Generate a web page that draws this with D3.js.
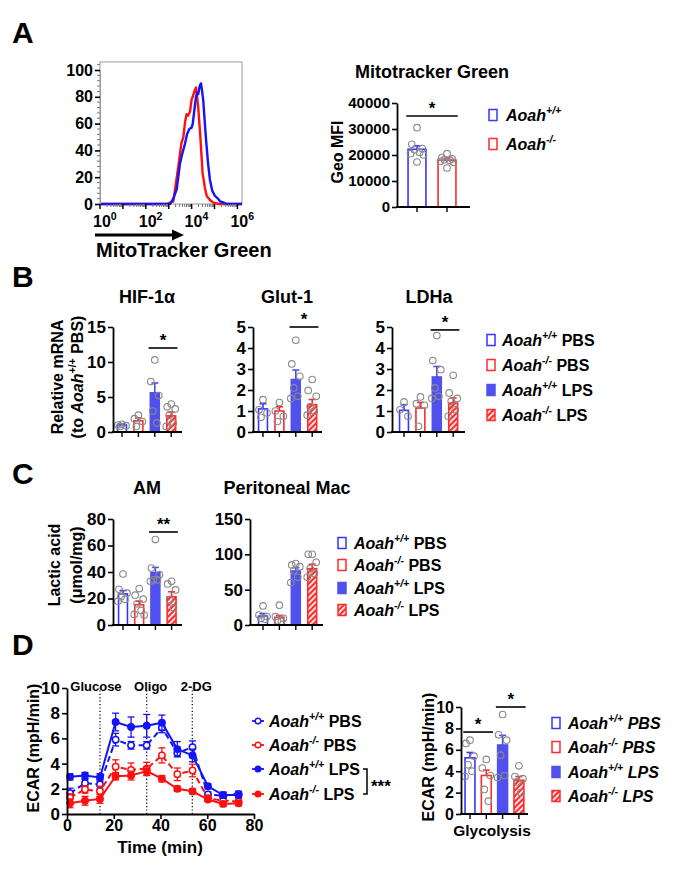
<!DOCTYPE html>
<html><head><meta charset="utf-8">
<script src="https://cdn.jsdelivr.net/npm/d3@7"></script>
<style>
body{margin:0;background:#fff}
text{font-family:"Liberation Sans",Arial,Helvetica,sans-serif;font-weight:bold;fill:#000}
</style>
</head><body>
<svg id="c" width="680" height="875"></svg>
<script>
// ================= DATA =================
// Panel A: flow histogram (log10 fluorescence, % of max)
const histLogBlue = [0, 3.06, 3.2, 3.35, 3.49, 3.6, 3.71, 3.8, 3.9, 4.0, 4.05, 4.12, 4.19, 4.25, 4.29, 4.35, 4.41, 4.46, 4.51, 4.57, 4.63, 4.72, 4.8, 4.9, 5.02, 5.15, 5.24, 5.4, 5.53, 6.2];
const histPctBlue = [0, 0, 4, 11, 30, 38, 45, 52, 56, 57, 60, 70, 80, 83, 82, 88, 90, 84, 77, 62, 48, 30, 18, 10, 6, 4, 2, 1, 0, 0];
const histLogRed  = [0, 2.9, 3.2, 3.42, 3.55, 3.64, 3.72, 3.78, 3.85, 3.93, 4.0, 4.05, 4.12, 4.19, 4.24, 4.29, 4.37, 4.48, 4.58, 4.66, 4.8, 4.95, 5.2, 6.2];
const histPctRed  = [0, 0, 2, 28, 45, 50, 62, 67, 66, 69, 78, 80, 84, 87, 80, 72, 53, 23, 12, 6, 3, 1, 0, 0];
const histYTicks = [0, 20, 40, 60, 80, 100];
const histXDecadeLabels = [0, 2, 4, 6];

// Panel A: Mitotracker Green Geo MFI
const mtgGroups = ["Aoah+/+", "Aoah-/-"];
const mtgMean = [22200, 18000];
const mtgSem  = [1300, 700];
const mtgDots = [[30500, 24100, 22500, 22000, 21000, 20500, 20000, 17300], [20500, 19000, 18500, 18200, 18000, 17600, 17200, 15000]];
const mtgTicks = [0, 10000, 20000, 30000, 40000];

// Panel B/C/D-bar groups
const groups4 = ["Aoah+/+ PBS", "Aoah-/- PBS", "Aoah+/+ LPS", "Aoah-/- LPS"];

// Panel B
const hifMean = [1.0, 1.6, 5.6, 2.3];
const hifSem  = [0.15, 0.4, 1.4, 0.55];
const hifDots = [[1.1, 1.0, 0.9, 0.8], [2.4, 1.9, 1.5, 0.8], [10.3, 7.2, 5.2, 3.0, 1.3], [4.0, 3.6, 3.3, 2.4, 1.3, 0.8]];
const hifTicks = [0, 5, 10, 15];

const glutMean = [1.1, 1.0, 2.5, 1.3];
const glutSem  = [0.25, 0.2, 0.45, 0.25];
const glutDots = [[1.54, 1.06, 0.9, 0.7], [1.4, 1.0, 0.75, 0.5], [4.37, 3.24, 2.65, 2.1, 1.7, 1.6], [2.5, 1.98, 1.7, 1.2, 1.0, 0.8]];
const ldhaMean = [1.03, 1.14, 2.62, 1.38];
const ldhaSem  = [0.27, 0.27, 0.5, 0.24];
const ldhaDots = [[1.43, 1.06, 0.75], [1.67, 1.35, 1.27, 0.27], [4.59, 3.4, 2.97, 2.1, 1.7, 1.6], [2.7, 1.86, 1.6, 1.46, 1.06, 0.75]];
const fiveTicks = [0, 1, 2, 3, 4, 5];

// Panel C
const amMean = [23.5, 15.3, 39.5, 21.3];
const amSem  = [2.5, 2.7, 4.0, 3.8];
const amDots = [[38.5, 27, 24, 21.4, 19.4, 18], [27.5, 22.5, 19.5, 16, 11, 8, 7.5], [64.5, 43, 38, 34, 34, 33], [33, 31, 26.5, 19, 13]];
const amTicks = [0, 20, 40, 60, 80];
const pmMean = [12.7, 11.0, 76.4, 79.7];
const pmSem  = [3.5, 2.5, 4.6, 6.3];
const pmDots = [[27, 14, 12, 9.4, 8], [28, 12, 9.4, 6, 5], [87, 85, 82.5, 77, 67.5, 60], [100, 100, 88.7, 80, 73, 67.5]];
const pmTicks = [0, 50, 100, 150];

// Panel D: ECAR time course
const ecarTime = [1.3, 7.7, 14.1, 20.8, 27.4, 34.1, 40.6, 47.2, 53.7, 60.3, 66.8, 73.4];
const ecarWtPbs  = [1.65, 2.45, 2.35, 5.9, 5.45, 5.45, 6.85, 4.85, 5.3, 1.55, 1.45, 1.6];
const ecarWtPbsSem  = [0.4, 0.3, 0.35, 0.5, 0.3, 0.3, 0.4, 0.3, 0.5, 0.2, 0.2, 0.2];
const ecarKoPbs  = [1.3, 1.95, 1.8, 3.75, 3.5, 3.6, 4.65, 3.15, 3.45, 1.25, 1.05, 1.0];
const ecarKoPbsSem  = [0.3, 0.3, 0.4, 0.55, 0.55, 0.5, 0.6, 0.5, 0.5, 0.2, 0.2, 0.2];
const ecarWtLps  = [2.95, 3.05, 2.9, 7.3, 6.9, 7.0, 7.25, 5.15, 4.65, 2.2, 1.5, 1.5];
const ecarWtLpsSem  = [0.25, 0.25, 0.3, 0.7, 0.8, 0.9, 0.6, 0.6, 0.5, 0.2, 0.25, 0.2];
const ecarKoLps  = [0.85, 1.05, 1.2, 3.0, 3.05, 3.4, 2.8, 2.0, 1.8, 1.15, 0.8, 0.85];
const ecarKoLpsSem  = [0.35, 0.35, 0.35, 0.3, 0.35, 0.35, 0.25, 0.2, 0.2, 0.15, 0.2, 0.2];
const injectionTimes = [14.1, 34.1, 53.6];
const injectionLabels = ["Glucose", "Oligo", "2-DG"];
const ecarXTicks = [0, 20, 40, 60, 80];
const ecarYTicks = [0, 2, 4, 6, 8, 10];

// Panel D: glycolysis bars
const glyMean = [5.25, 3.6, 6.45, 3.15];
const glySem  = [0.5, 0.5, 0.9, 0.35];
const glyDots = [[6.9, 6.6, 5.4, 4.6, 4.0, 3.5], [5.1, 4.3, 3.6, 2.3, 1.2], [9.3, 7.4, 6.9, 5.5, 3.6, 3.4], [4.5, 3.5, 3.3, 3.0, 2.0]];
const glyTicks = [0, 2, 4, 6, 8, 10];

// ================= DRAWING =================
const svg = d3.select("#c");
const BLUE = "#3535ff", BLUEF = "#5050ee", RED = "#ff2b2b";
const LBLUE = "#1414f5", LRED = "#ff1010";

const defs = svg.append("defs");
const pat = defs.append("pattern").attr("id", "hatch").attr("patternUnits", "userSpaceOnUse")
  .attr("width", 4).attr("height", 4).attr("patternTransform", "rotate(45)");
pat.append("rect").attr("width", 4).attr("height", 4).attr("fill", RED);
pat.append("rect").attr("width", 1.7).attr("height", 4).attr("fill", "#fff");

const STY = {
  wo: {fill: "#fff", stroke: BLUE},
  ko: {fill: "#fff", stroke: RED},
  wf: {fill: BLUEF, stroke: BLUEF},
  kh: {fill: "url(#hatch)", stroke: RED}
};
const styles4 = ["wo", "ko", "wf", "kh"];

function rich(parent, x, y, parts, size, anchor, rot) {
  const t = parent.append("text").attr("font-size", size).attr("text-anchor", anchor || "start");
  if (rot) t.attr("transform", `translate(${x + size * 0.35},${y}) rotate(-90)`);
  else t.attr("x", x).attr("y", y);
  let prevSup = false;
  parts.forEach(p => {
    const s = t.append("tspan").text(p.t);
    if (p.i) s.attr("font-style", "italic");
    if (p.sup) { s.attr("font-size", size * 0.66).attr("dy", -size * 0.42); }
    else if (prevSup) s.attr("dy", size * 0.42);
    prevSup = !!p.sup;
  });
  return t;
}

function styleAxis(g, fs) {
  g.select(".domain").attr("stroke", "#000").attr("stroke-width", 1.8);
  g.selectAll(".tick line").attr("stroke", "#000").attr("stroke-width", 1.6);
  g.selectAll(".tick text").attr("font-size", fs || 16).attr("font-weight", "bold")
    .attr("font-family", '"Liberation Sans",Arial,sans-serif').attr("fill", "#000");
}

const jitter = [0, -4, 4, -2, 2, -5, 5, 0];

function barPanel(p) {
  const g = svg.append("g");
  const y = d3.scaleLinear().domain([0, p.max]).range([p.yBot, p.yTop]);
  const n = p.groups.length, pin = 1 - p.bw / p.step;
  const r0 = p.c0 - p.bw / 2;
  const x = d3.scaleBand().domain(p.groups).range([r0, r0 + p.step * (n - pin)]).paddingInner(pin).paddingOuter(0);
  const bw = x.bandwidth();
  p.groups.forEach((gn, i) => {
    const st = STY[p.styles[i]];
    const cx = x(gn) + bw / 2;
    g.append("rect").attr("x", x(gn) + 0.8).attr("y", y(p.mean[i])).attr("width", bw - 1.6)
      .attr("height", y(0) - y(p.mean[i])).attr("fill", st.fill).attr("stroke", st.stroke).attr("stroke-width", 1.6);
    const ec = st.stroke;
    g.append("line").attr("x1", cx).attr("x2", cx).attr("y1", y(p.mean[i])).attr("y2", y(p.mean[i] + p.sem[i]))
      .attr("stroke", ec).attr("stroke-width", 1.6);
    g.append("line").attr("x1", cx - 3.5).attr("x2", cx + 3.5).attr("y1", y(p.mean[i] + p.sem[i])).attr("y2", y(p.mean[i] + p.sem[i]))
      .attr("stroke", ec).attr("stroke-width", 1.6);
    p.dots[i].forEach((v, k) => {
      g.append("circle").attr("cx", cx + jitter[k % jitter.length] * (p.jit || 1)).attr("cy", y(v)).attr("r", 3.3)
        .attr("fill", "none").attr("stroke", "#8a8a8a").attr("stroke-width", 1.1);
    });
  });
  g.append("g").attr("transform", `translate(${p.x0},0)`)
    .call(d3.axisLeft(y).tickValues(p.ticks).tickSize(5).tickSizeOuter(0).tickPadding(2).tickFormat(d3.format("d")))
    .call(a => styleAxis(a, p.fs));
  g.append("line").attr("x1", p.x0 - 0.9).attr("x2", p.xEnd).attr("y1", p.yBot).attr("y2", p.yBot)
    .attr("stroke", "#000").attr("stroke-width", 1.8);
  g.append("g").attr("transform", `translate(0,${p.yBot})`)
    .call(d3.axisBottom(x).tickSize(5).tickFormat(""))
    .call(a => { a.select(".domain").remove(); a.selectAll(".tick line").attr("stroke", "#000").attr("stroke-width", 1.4); });
  (p.sig || []).forEach(s => {
    const xa = x(p.groups[s.a]) - 1, xb = x(p.groups[s.b]) + bw + 1;
    g.append("line").attr("x1", xa).attr("x2", xb).attr("y1", y(s.v)).attr("y2", y(s.v)).attr("stroke", "#000").attr("stroke-width", 1.6);
    g.append("text").attr("x", (xa + xb) / 2).attr("y", y(s.v) - 2).attr("text-anchor", "middle").attr("font-size", 17).text(s.t);
  });
  if (p.title) g.append("text").attr("x", p.title.x).attr("y", p.title.y).attr("text-anchor", "middle").attr("font-size", 18).text(p.title.t);
  return {x, y};
}

function swatch(g, x, cy, st) {
  g.append("rect").attr("x", x).attr("y", cy - 5.5).attr("width", 8).attr("height", 11)
    .attr("fill", st.fill).attr("stroke", st.stroke).attr("stroke-width", 1.5);
}
function geno(gn) { return gn.indexOf("+/+") >= 0 ? "+/+" : "-/-"; }
function cond(gn) { const s = gn.split(" "); return s.length > 1 ? s[1] : ""; }

function legend4(x, tx, rows, italicCond) {
  const g = svg.append("g");
  groups4.forEach((gn, i) => {
    swatch(g, x, rows[i], STY[styles4[i]]);
    rich(g, tx, rows[i] + 6, [{t: "Aoah", i: true}, {t: geno(gn), sup: true, i: true}, {t: " " + cond(gn), i: italicCond}], 16);
  });
}

// Panel letters
[["A", 43], ["B", 287], ["C", 484], ["D", 655]].forEach(([l, yy]) =>
  svg.append("text").attr("x", 12).attr("y", yy).attr("font-size", 30).text(l));

// ---------- Panel A histogram ----------
(function () {
  const g = svg.append("g");
  const x = d3.scaleLinear().domain([0, 6.2]).range([100, 242]);
  const y = d3.scaleLinear().domain([0, 100]).range([204, 70]);
  const top = y(106);
  g.append("rect").attr("x", 100).attr("y", top).attr("width", 142).attr("height", 204 - top)
    .attr("fill", "none").attr("stroke", "#9a9a9a").attr("stroke-width", 1);
  const line = d3.line().x(d => x(d[0])).y(d => y(d[1]));
  g.append("path").datum(histLogRed.map((v, i) => [v, histPctRed[i]])).attr("d", line)
    .attr("fill", "none").attr("stroke", LRED).attr("stroke-width", 2.4).attr("stroke-linejoin", "round");
  g.append("path").datum(histLogBlue.map((v, i) => [v, histPctBlue[i]])).attr("d", line)
    .attr("fill", "none").attr("stroke", LBLUE).attr("stroke-width", 2.4).attr("stroke-linejoin", "round");
  const ya = g.append("g").attr("transform", "translate(100,0)")
    .call(d3.axisLeft(y).tickValues(histYTicks).tickSize(5).tickSizeOuter(0).tickPadding(2));
  styleAxis(ya, 16);
  ya.select(".domain").attr("stroke", "#9a9a9a").attr("stroke-width", 1);
  for (let v = 0; v <= 104; v += 4) {
    if (v % 20) g.append("line").attr("x1", 97).attr("x2", 100).attr("y1", y(v)).attr("y2", y(v)).attr("stroke", "#777").attr("stroke-width", 1);
  }
  for (let d = 0; d <= 6; d++) {
    g.append("line").attr("x1", x(d)).attr("x2", x(d)).attr("y1", 204).attr("y2", 209).attr("stroke", "#000").attr("stroke-width", 1.5);
    if (d < 6) for (let m = 2; m <= 9; m++) {
      const lx = x(d + Math.log10(m));
      g.append("line").attr("x1", lx).attr("x2", lx).attr("y1", 204).attr("y2", 207).attr("stroke", "#777").attr("stroke-width", 1);
    }
  }
  histXDecadeLabels.forEach(d => {
    rich(g, x(d) - 7, 227, [{t: "10"}, {t: String(d), sup: true}], 16);
  });
  g.append("line").attr("x1", 95).attr("x2", 174).attr("y1", 235).attr("y2", 235).attr("stroke", "#000").attr("stroke-width", 3);
  g.append("path").attr("d", "M172,229.5 L184,235 L172,240.5 Z").attr("fill", "#000");
  g.append("text").attr("x", 96).attr("y", 257).attr("font-size", 20).text("MitoTracker Green");
})();

// ---------- Panel A bars ----------
barPanel({groups: mtgGroups, mean: mtgMean, sem: mtgSem, dots: mtgDots, styles: ["wo", "ko"], max: 40000, ticks: mtgTicks,
  x0: 397, xEnd: 470, yTop: 103, yBot: 207, c0: 417, step: 30, bw: 19.5, jit: 1.3, fs: 15,
  sig: [{a: 0, b: 1, v: 35000, t: "*"}], title: {x: 432, y: 78, t: "Mitotracker Green"}});
rich(svg, 337, 152, [{t: "Geo MFI"}], 16, "middle", true);
(function () {
  const g = svg.append("g");
  [115, 144].forEach((cy, i) => {
    swatch(g, 489, cy, STY[i ? "ko" : "wo"]);
    rich(g, 506, cy + 6, [{t: "Aoah", i: true}, {t: geno(mtgGroups[i]), sup: true, i: true}], 16);
  });
})();

// ---------- Panel B ----------
barPanel({groups: groups4, mean: hifMean, sem: hifSem, dots: hifDots, styles: styles4, max: 15, ticks: hifTicks,
  x0: 113, xEnd: 182, yTop: 327, yBot: 432, c0: 122, step: 16.4, bw: 10.5, fs: 17,
  sig: [{a: 2, b: 3, v: 12, t: "*"}], title: {x: 147, y: 303, t: "HIF-1α"}});
barPanel({groups: groups4, mean: glutMean, sem: glutSem, dots: glutDots, styles: styles4, max: 5, ticks: fiveTicks,
  x0: 253, xEnd: 322, yTop: 327, yBot: 432, c0: 263, step: 16.4, bw: 10.5, fs: 17,
  sig: [{a: 2, b: 3, v: 5, t: "*"}], title: {x: 287, y: 303, t: "Glut-1"}});
barPanel({groups: groups4, mean: ldhaMean, sem: ldhaSem, dots: ldhaDots, styles: styles4, max: 5, ticks: fiveTicks,
  x0: 392, xEnd: 465, yTop: 327, yBot: 432, c0: 404, step: 16.4, bw: 10.5, fs: 17,
  sig: [{a: 2, b: 3, v: 4.86, t: "*"}], title: {x: 429, y: 303, t: "LDHa"}});
rich(svg, 57, 377, [{t: "Relative mRNA"}], 16, "middle", true);
rich(svg, 77, 377, [{t: "(to "}, {t: "Aoah", i: true}, {t: "+/+", sup: true}, {t: " PBS)"}], 16, "middle", true);
legend4(487, 502, [340, 365, 390, 415], false);

// ---------- Panel C ----------
barPanel({groups: groups4, mean: amMean, sem: amSem, dots: amDots, styles: styles4, max: 80, ticks: amTicks,
  x0: 113, xEnd: 182, yTop: 519, yBot: 625, c0: 123, step: 16.2, bw: 10.5, fs: 17,
  sig: [{a: 2, b: 3, v: 70.2, t: "**"}], title: {x: 147, y: 494, t: "AM"}});
barPanel({groups: groups4, mean: pmMean, sem: pmSem, dots: pmDots, styles: styles4, max: 150, ticks: pmTicks,
  x0: 250, xEnd: 323, yTop: 519, yBot: 625, c0: 263, step: 16.4, bw: 10.5, fs: 17,
  title: {x: 287, y: 494, t: "Peritoneal Mac"}});
rich(svg, 54, 565, [{t: "Lactic acid"}], 16, "middle", true);
rich(svg, 76, 565, [{t: "(μmol/mg)"}], 16, "middle", true);
legend4(338, 354, [543, 565, 588, 610], false);

// ---------- Panel D line chart ----------
(function () {
  const g = svg.append("g");
  const x = d3.scaleLinear().domain([0, 80]).range([67, 254]);
  const y = d3.scaleLinear().domain([0, 10]).range([814, 688]);
  const labelShift = [-4, 4, 4];
  injectionTimes.forEach((t, k) => {
    g.append("line").attr("x1", x(t)).attr("x2", x(t)).attr("y1", y(0)).attr("y2", y(10))
      .attr("stroke", "#000").attr("stroke-width", 1.2).attr("stroke-dasharray", "1.2,2.2");
    g.append("text").attr("x", x(t) + labelShift[k]).attr("y", 691).attr("text-anchor", "middle").attr("font-size", 13).text(injectionLabels[k]);
  });
  const series = [
    {m: ecarWtPbs, s: ecarWtPbsSem, c: LBLUE, dash: true, fill: false},
    {m: ecarKoPbs, s: ecarKoPbsSem, c: LRED, dash: true, fill: false},
    {m: ecarWtLps, s: ecarWtLpsSem, c: LBLUE, dash: false, fill: true},
    {m: ecarKoLps, s: ecarKoLpsSem, c: LRED, dash: false, fill: true}
  ];
  const line = d3.line().x((d, i) => x(ecarTime[i])).y(d => y(d));
  series.forEach(se => {
    g.append("path").datum(se.m).attr("d", line).attr("fill", "none").attr("stroke", se.c).attr("stroke-width", 2)
      .attr("stroke-dasharray", se.dash ? "6,3.5" : null);
    se.m.forEach((v, i) => {
      const cx = x(ecarTime[i]);
      g.append("line").attr("x1", cx).attr("x2", cx).attr("y1", y(v - se.s[i])).attr("y2", y(v + se.s[i])).attr("stroke", se.c).attr("stroke-width", 1.3);
      [v - se.s[i], v + se.s[i]].forEach(e => g.append("line").attr("x1", cx - 3.5).attr("x2", cx + 3.5).attr("y1", y(e)).attr("y2", y(e)).attr("stroke", se.c).attr("stroke-width", 1.3));
      g.append("circle").attr("cx", cx).attr("cy", y(v)).attr("r", 3.2)
        .attr("fill", se.fill ? se.c : "#fff").attr("stroke", se.c).attr("stroke-width", 1.5);
    });
  });
  g.append("g").attr("transform", "translate(67,0)")
    .call(d3.axisLeft(y).tickValues(ecarYTicks).tickSize(5).tickSizeOuter(0).tickPadding(2)).call(a => styleAxis(a, 17));
  g.append("g").attr("transform", "translate(0,814)")
    .call(d3.axisBottom(x).tickValues(ecarXTicks).tickSize(5).tickSizeOuter(0).tickPadding(1)).call(a => styleAxis(a, 16));
  g.append("text").attr("x", 160).attr("y", 853).attr("text-anchor", "middle").attr("font-size", 17).text("Time (min)");
  rich(svg, 33, 748, [{t: "ECAR (mpH/min)"}], 16, "middle", true);
  const rows = [721, 745, 769, 794];
  series.forEach((se, i) => {
    const gn = groups4[i];
    g.append("line").attr("x1", 252).attr("x2", 264).attr("y1", rows[i]).attr("y2", rows[i]).attr("stroke", se.c).attr("stroke-width", 1.8);
    g.append("circle").attr("cx", 258).attr("cy", rows[i]).attr("r", 2.8).attr("fill", se.fill ? se.c : "#fff").attr("stroke", se.c).attr("stroke-width", 1.4);
    rich(g, 269, rows[i] + 6, [{t: "Aoah", i: true}, {t: geno(gn), sup: true, i: true}, {t: " " + cond(gn)}], 16);
  });
  g.append("path").attr("d", `M363,${rows[2]} H367 V${rows[3]} H363`).attr("fill", "none").attr("stroke", "#000").attr("stroke-width", 1.5);
  g.append("text").attr("x", 371).attr("y", 792).attr("font-size", 17).text("***");
})();

// ---------- Panel D glycolysis ----------
barPanel({groups: groups4, mean: glyMean, sem: glySem, dots: glyDots, styles: styles4, max: 10, ticks: glyTicks,
  x0: 461, xEnd: 528, yTop: 707, yBot: 814, c0: 470, step: 16.3, bw: 11.5, fs: 16,
  sig: [{a: 0, b: 1, v: 7.66, t: "*"}, {a: 2, b: 3, v: 10, t: "*"}]});
svg.append("text").attr("x", 492).attr("y", 836).attr("text-anchor", "middle").attr("font-size", 15.5).text("Glycolysis");
rich(svg, 428, 757, [{t: "ECAR (mpH/min)"}], 16, "middle", true);
legend4(552, 568, [723, 747, 772, 796], true);
</script>
</body></html>
